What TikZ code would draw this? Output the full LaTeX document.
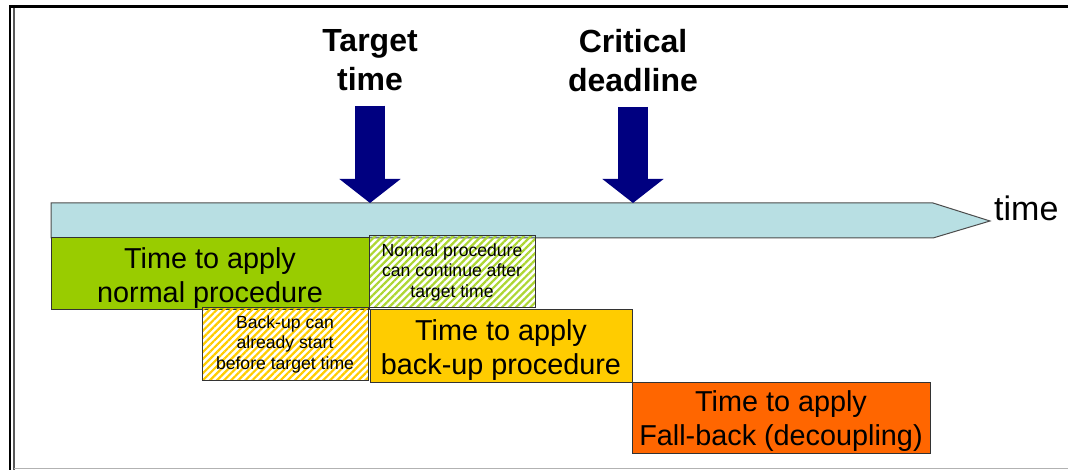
\documentclass[tikz,border=0pt]{standalone}
\usepackage{fontspec}
\setmainfont{Liberation Sans}
\usetikzlibrary{arrows.meta,patterns.meta}

\definecolor{barblue}{HTML}{B8DFE3}
\definecolor{navy}{HTML}{000080}
\definecolor{normalgreen}{HTML}{99CC00}
\definecolor{backupyellow}{HTML}{FFCC00}
\definecolor{fallorange}{HTML}{FF6600}

\begin{document}
\begin{tikzpicture}[x=1pt,y=-1pt]
				\tikzstyle{title}=[align=center, inner sep=0pt, font=\fontsize{32}{39}\selectfont\bfseries]
				\tikzstyle{block arrow}=[draw=navy, line width=30pt, -{Triangle[width=60pt,length=24pt]}, navy]
				\tikzstyle{phase}=[draw=black!80, line width=1pt, align=center, inner sep=0pt, text height=62pt, font=\fontsize{28.8}{34}\selectfont]
				\tikzstyle{note}=[phase, text height=54pt, font=\fontsize{17.6}{20.5}\selectfont]
				\tikzstyle{green hatch}=[note, pattern={Lines[angle=45,distance=5pt,line width=2.2pt]}, pattern color=normalgreen!80]
				\tikzstyle{yellow hatch}=[note, pattern={Lines[angle=45,distance=5pt,line width=2.2pt]}, pattern color=backupyellow]
				
				\useasboundingbox (0,0) rectangle (1068,470);
				
				% Marco
				\draw[line width=2.5pt] (9,6.5) -- (1068,6.5);
				\draw[line width=2pt] (10,6) -- (10,470);
				\draw[line width=1.5pt, black!65] (14,8) -- (14,470);
				\draw[line width=1.5pt, black!30] (14,468.5) -- (1068,468.5);
				
				% Eje de tiempo
				\filldraw[fill=barblue, draw=black!70, line width=1pt]
				(51,203) -- (933,203) -- (990,221) -- (933,238) -- (51,238) -- cycle;
				\node[anchor=base west, inner sep=0pt, font=\fontsize{34}{40}\selectfont] (timelbl) at (994,221) {time};
				
				% Instantes
				\foreach \name / \x / \txt in {tgt/370/{Target\\time}, crit/633/{Critical\\deadline}}
				{
					\coordinate (\name-tip) at (\x,203);
					\node[title, anchor=north] (\name) at (\x,29) {\txt};
					\draw[block arrow] ([yshift=-15pt]\name.south) -- (\name.south |- \name-tip);
				}
				
				% Fases
				\node[phase, fill=normalgreen, minimum width=318pt, minimum height=72pt] (normal) at (210,274) {Time to apply\\normal procedure};
				\node[green hatch, minimum width=166pt, minimum height=72pt] (normal-more) at (452,272) {Normal procedure\\can continue after\\target time};
				\node[yellow hatch, minimum width=166pt, minimum height=72pt] (backup-early) at (285,344) {Back-up can\\already start\\before target time};
				\node[phase, fill=backupyellow, minimum width=262pt, minimum height=72pt] (backup) at (501,346) {Time to apply\\back-up procedure};
				\node[phase, fill=fallorange, minimum width=298pt, minimum height=71pt] (fallback) at (781,417.5) {Time to apply\\Fall-back (decoupling)};
			\end{tikzpicture}
\end{document}
